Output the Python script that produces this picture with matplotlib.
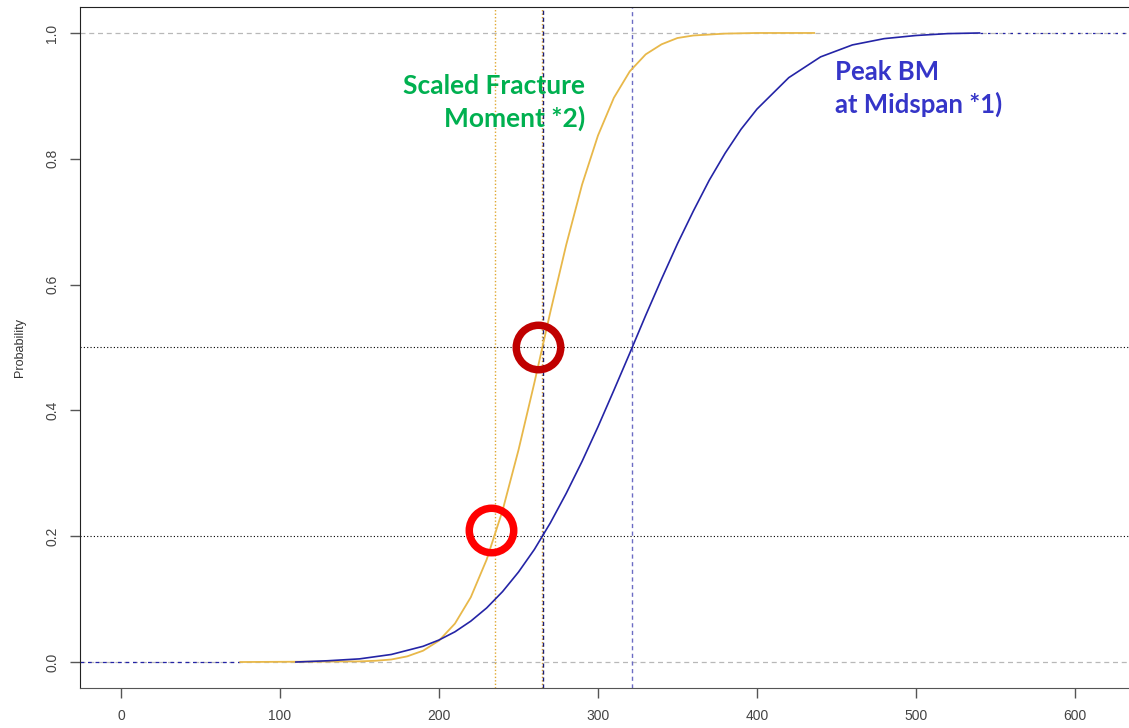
import numpy as np
import matplotlib.pyplot as plt

# probability curves
bm_x = [110, 130, 150, 170, 190, 200, 210, 220, 230, 240, 250, 260, 270, 280, 290,
        300, 310, 320, 330, 340, 350, 360, 370, 380, 390, 400, 420, 440, 460, 480,
        500, 520, 540]
bm_p = [0.000, 0.002, 0.005, 0.012, 0.025, 0.035, 0.048, 0.065, 0.086, 0.112, 0.143,
        0.179, 0.221, 0.268, 0.319, 0.374, 0.432, 0.491, 0.551, 0.609, 0.665, 0.717,
        0.766, 0.809, 0.847, 0.879, 0.929, 0.962, 0.981, 0.991, 0.996, 0.999, 1.000]

fm_x = [75, 150, 160, 170, 180, 190, 200, 210, 220, 230, 240, 250, 260, 270, 280,
        290, 300, 310, 320, 330, 340, 350, 360, 380, 400, 436]
fm_p = [0.000, 0.001, 0.002, 0.004, 0.009, 0.018, 0.034, 0.061, 0.103, 0.163, 0.241,
        0.337, 0.444, 0.556, 0.663, 0.759, 0.837, 0.897, 0.939, 0.966, 0.982, 0.992,
        0.996, 0.999, 1.000, 1.000]

# reference levels
vlines_fm = [235, 265]
vline_bm20 = 265.5
vline_bm50 = 321.5
hlines = [0.2, 0.5]
circles = [(262, 0.5, "#c00000"), (233, 0.21, "#ff0000")]

xticks = [0, 100, 200, 300, 400, 500, 600]
yticks = [0.0, 0.2, 0.4, 0.6, 0.8, 1.0]

blue = "#2424a6"
orange = "#e8b84a"
xmin, xmax = -25.8, 634

plt.rcParams['font.family'] = ['Liberation Sans', 'DejaVu Sans']
fig = plt.figure(figsize=(11.29, 7.28), dpi=100)
ax = fig.add_axes([80 / 1129, 1 - 688 / 728, 1 - 80 / 1129, (688 - 7) / 728])

# 0 / 1 guide lines
ax.axhline(0, color="#b8b8b8", ls=(0, (4, 3)), lw=0.9, zorder=1)
ax.axhline(1, color="#b8b8b8", ls=(0, (4, 3)), lw=0.9, zorder=1)
ax.plot([xmin, fm_x[0]], [0, 0], color=blue, ls=(0, (3, 3)), lw=0.9, zorder=2)
ax.plot([bm_x[-1], xmax], [1, 1], color=blue, ls=(0, (2, 4)), lw=0.9, zorder=2)

for y in hlines:
    ax.axhline(y, color="black", ls=(0, (1, 2)), lw=0.8, zorder=2)

ax.axvline(vlines_fm[0], color="#e0a830", ls=(0, (1, 1.5)), lw=1.0, zorder=2)
ax.axvline(vlines_fm[1], color="#e0a830", ls=(0, (1, 1.5)), lw=1.0, zorder=2)
ax.axvline(vline_bm20, color="#1e1e70", ls=(0, (3, 2)), lw=1.0, zorder=2)
ax.axvline(vline_bm50, color="#6c6cc4", ls=(0, (3, 2.5)), lw=1.0, zorder=2)

ax.plot(fm_x, fm_p, color=orange, lw=1.3, zorder=3)
ax.plot(bm_x, bm_p, color=blue, lw=1.2, zorder=4)

for cx, cy, c in circles:
    ax.plot(cx, cy, marker="o", ms=32, mfc="none", mec=c, mew=5.4, zorder=5)

ax.text(292, 0.889, "Scaled Fracture\nMoment *2)", color="#00b050", fontsize=19,
        fontweight="bold", family=["Lato", "DejaVu Sans"], ha="right", va="center",
        linespacing=1.35)
ax.text(449, 0.912, "Peak BM\nat Midspan *1)", color="#3535c8", fontsize=18.5,
        fontweight="bold", family=["Lato", "DejaVu Sans"], ha="left", va="center",
        linespacing=1.38)

ax.set_xlim(xmin, xmax)
ax.set_ylim(-0.0413, 1.0413)
ax.set_xticks(xticks)
ax.set_yticks(yticks)
ax.set_yticklabels([f"{v:.1f}" for v in yticks], rotation=90, va="center")
ax.tick_params(axis="both", length=7, width=1, color="#555555", labelcolor="#444444",
               labelsize=10, pad=8)
ax.spines["right"].set_visible(False)
for s in ["left", "top"]:
    ax.spines[s].set_color("#222222")
ax.spines["bottom"].set_color("#555555")
ax.set_ylabel("Probability", fontsize=9, color="#333333", labelpad=14)

fig.savefig("out.png", dpi=100)
